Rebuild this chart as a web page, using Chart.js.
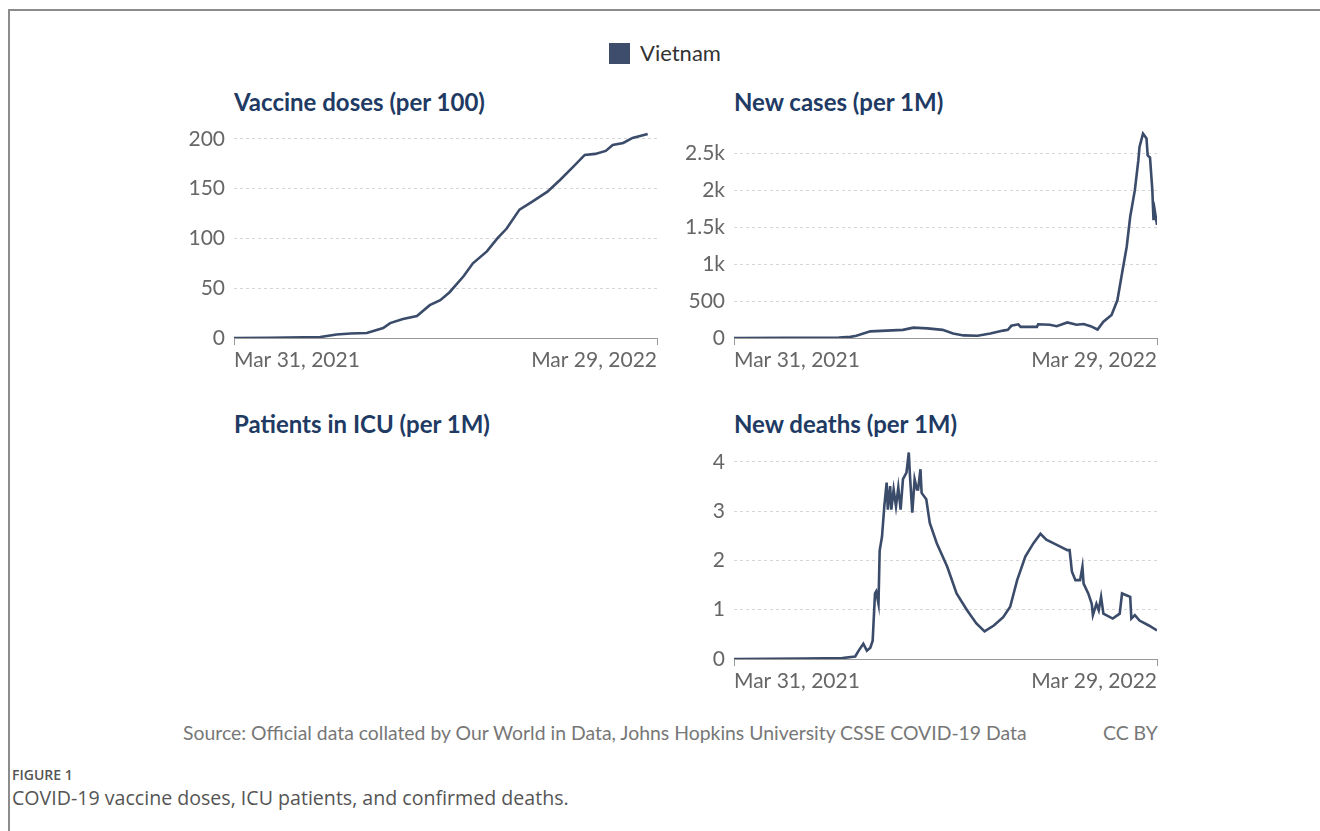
<!DOCTYPE html>
<html lang="en">
<head>
    <meta charset="UTF-8">
    <title>Vietnam COVID-19</title>
    <script src="https://cdn.jsdelivr.net/npm/chart.js"></script>
    <style>
        body { margin: 0; background: #fff; }
        #page { position: relative; width: 1320px; height: 831px; overflow: hidden; font-family: Lato, sans-serif; }
        .abs { position: absolute; white-space: nowrap; }
        .title { font-size: 24px; font-weight: 700; color: #213a63; line-height: 30px; }
        canvas { position: absolute; }
    </style>
</head>
<body>
<div id="page">
    <div class="abs" style="left:8px; top:9px; width:1312px; height:2px; background:#8c8c8c;"></div>
    <div class="abs" style="left:8px; top:9px; width:2px; height:822px; background:#8c8c8c;"></div>

    <div class="abs" style="left:609px; top:43px; width:21px; height:21px; background:#3d4d6b;"></div>
    <div class="abs" style="left:640px; top:39px; font-size:22px; line-height:28px; color:#333;">Vietnam</div>

    <div class="abs title" style="left:234px; top:87px;">Vaccine doses (per 100)</div>
    <div class="abs title" style="left:734px; top:87px;">New cases (per 1M)</div>
    <div class="abs title" style="left:234px; top:409px;">Patients in ICU (per 1M)</div>
    <div class="abs title" style="left:734px; top:409px;">New deaths (per 1M)</div>

    <canvas id="vaccChart" width="513" height="263" style="left:154px; top:115px;"></canvas>
    <canvas id="casesChart" width="513" height="261" style="left:654px; top:117px;"></canvas>
    <canvas id="deathsChart" width="513" height="261" style="left:654px; top:438px;"></canvas>

    <div class="abs" style="left:183px; top:721px; font-size:19.4px; line-height:24px; color:#777;">Source: Official data collated by Our World in Data, Johns Hopkins University CSSE COVID-19 Data</div>
    <div class="abs" style="left:1103px; top:721px; font-size:19.4px; line-height:24px; color:#777;">CC BY</div>

    <div class="abs" style="left:12px; top:765px; font-family:'Open Sans', sans-serif; font-size:14px; font-weight:600; line-height:20px; color:#555;">FIGURE 1</div>
    <div class="abs" style="left:12px; top:786px; font-family:'Open Sans', sans-serif; font-size:19.6px; line-height:24px; color:#555;">COVID-19 vaccine doses, ICU patients, and confirmed deaths.</div>
</div>

<script>
    // x is days since Mar 31, 2021
    const xTickLabels = ['Mar 31, 2021', 'Mar 29, 2022'];
    const xLastDay = 363;

    const vaccineDays   = [0, 30, 60, 74, 88, 100, 114, 128, 134, 145, 157, 168, 177, 185, 197, 205, 217, 226, 234, 245, 256, 269, 280, 291, 301, 310, 319, 325, 334, 342, 355];
    const vaccineValues = [0, 0.3, 0.8, 1, 3.5, 4.5, 5, 10, 15, 19, 22, 33, 38, 46, 62, 75, 87, 100, 110, 129, 137, 147, 159, 172, 184, 185, 188, 194, 196, 201, 205];
    const vaccineTicks  = [0, 50, 100, 150, 200];

    const casesDays   = [0, 90, 100, 105, 117, 131, 145, 154, 166, 179, 188, 197, 209, 220, 231, 235, 238, 244, 246, 260, 261, 271, 277, 286, 294, 300, 306, 312, 317, 324, 329, 333, 337, 340, 344, 347, 348, 351, 354, 355, 357, 359, 360, 361, 363];
    const casesValues = [0, 5, 15, 30, 90, 100, 110, 140, 130, 110, 60, 35, 30, 60, 100, 110, 165, 185, 150, 150, 185, 180, 160, 210, 180, 190, 160, 115, 220, 310, 510, 875, 1235, 1640, 2000, 2405, 2585, 2765, 2700, 2470, 2440, 2000, 1595, 1730, 1530];
    const casesTicks  = [0, 500, 1000, 1500, 2000, 2500];

    const deathsDays   = [0, 60, 93, 104, 107, 111, 114, 117, 119, 121, 122, 124, 125, 127, 129, 131, 132, 134, 135, 137, 139, 141, 143, 145, 148, 150, 151, 153, 155, 157, 158, 160, 161, 165, 168, 174, 183, 191, 200, 208, 215, 223, 231, 237, 243, 250, 257, 263, 268, 274, 280, 286, 288, 290, 293, 297, 299, 300, 304, 307, 308, 311, 313, 315, 317, 325, 331, 333, 340, 341, 344, 348, 356, 363];
    const deathsValues = [0, 0.01, 0.02, 0.05, 0.17, 0.31, 0.17, 0.23, 0.37, 1.33, 1.37, 1.12, 2.2, 2.48, 3.1, 3.58, 3.03, 3.51, 3.03, 3.44, 3.1, 3.48, 3.03, 3.65, 3.78, 4.19, 3.72, 2.97, 3.65, 3.44, 3.44, 3.85, 3.37, 3.24, 2.76, 2.35, 1.87, 1.33, 0.99, 0.72, 0.56, 0.68, 0.85, 1.06, 1.6, 2.08, 2.35, 2.54, 2.42, 2.35, 2.28, 2.21, 2.21, 1.77, 1.6, 1.6, 1.87, 1.53, 1.33, 1.12, 0.89, 1.12, 0.99, 1.26, 0.92, 0.82, 0.92, 1.33, 1.26, 0.82, 0.89, 0.78, 0.68, 0.58];
    const deathsTicks  = [0, 1, 2, 3, 4];

    const lineColor = '#3b4b6a';
    const tickColor = '#666';

    Chart.defaults.font.family = 'Lato';

    function kFormat(v) {
        return v >= 1000 ? (v / 1000) + 'k' : String(v);
    }

    function makeChart(id, days, values, yMax, yTicks, fmt) {
        const points = days.map((d, i) => ({ x: d, y: values[i] }));
        return new Chart(document.getElementById(id), {
            type: 'line',
            data: {
                datasets: [{
                    label: 'Vietnam',
                    data: points,
                    borderColor: lineColor,
                    borderWidth: 2.6,
                    pointRadius: 0,
                    tension: 0,
                    fill: false
                }]
            },
            options: {
                responsive: false,
                animation: false,
                layout: { padding: { top: 14, right: 10, left: 0, bottom: 0 } },
                plugins: { legend: { display: false }, tooltip: { enabled: false } },
                scales: {
                    x: {
                        type: 'linear',
                        min: 0,
                        max: xLastDay,
                        afterBuildTicks: ax => { ax.ticks = [{ value: 0 }, { value: xLastDay }]; },
                        afterFit: s => { s.height = 40; s.paddingLeft = 0; s.paddingRight = 0; },
                        ticks: {
                            callback: (v, i) => xTickLabels[i],
                            align: 'inner',
                            maxRotation: 0,
                            autoSkip: false,
                            color: tickColor,
                            padding: 3,
                            font: { size: 21 }
                        },
                        grid: { drawOnChartArea: false, drawTicks: true, tickLength: 7, color: '#999' },
                        border: { display: true, color: '#999', width: 1 }
                    },
                    y: {
                        min: 0,
                        max: yMax,
                        afterBuildTicks: ax => { ax.ticks = yTicks.map(v => ({ value: v })); },
                        afterFit: s => { s.width = 80; s.paddingTop = 0; s.paddingBottom = 0; },
                        ticks: {
                            callback: v => fmt(v),
                            color: tickColor,
                            padding: 9,
                            font: { size: 21 }
                        },
                        grid: { drawTicks: false, color: '#d6d6d6', lineWidth: 1 },
                        border: { display: false, dash: [3, 3] }
                    }
                }
            }
        });
    }

    makeChart('vaccChart', vaccineDays, vaccineValues, 210, vaccineTicks, v => String(v));
    makeChart('casesChart', casesDays, casesValues, 2800, casesTicks, kFormat);
    makeChart('deathsChart', deathsDays, deathsValues, 4.2, deathsTicks, v => String(v));
</script>
</body>
</html>
